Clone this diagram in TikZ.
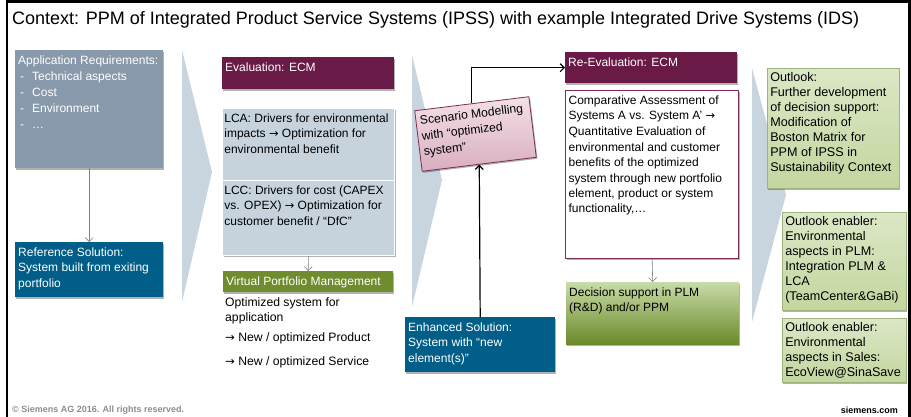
\documentclass[tikz,border=0pt]{standalone}
\usepackage{fontspec}
\setmainfont{Liberation Sans}
\newfontfamily\arrfont{DejaVu Sans}
\newcommand{\rarr}{{\arrfont\scalebox{0.95}{→}}}
\usetikzlibrary{arrows.meta,shadows}
\definecolor{appgrey}{HTML}{8799AA}
\definecolor{tealb}{HTML}{005E88}
\definecolor{purp}{HTML}{6A1A46}
\definecolor{lblue}{HTML}{C6D3DD}
\definecolor{chev}{HTML}{C8D4DE}
\definecolor{olive}{HTML}{6F8C2E}
\definecolor{gtop}{HTML}{C8DBA8}
\definecolor{gmid}{HTML}{A9C07F}
\definecolor{gbot}{HTML}{6A8A28}
\definecolor{otop}{HTML}{DCE7C6}
\definecolor{obot}{HTML}{C3D69F}
\definecolor{oline}{HTML}{9EB37E}
\definecolor{ptop}{HTML}{F3E0E7}
\definecolor{pbot}{HTML}{D8AEBF}
\definecolor{pline}{HTML}{7B2D55}
\definecolor{foot}{HTML}{8C8C8C}
\newcommand{\bx}[3]{\parbox[c][#2][t]{#1}{\raggedright\strut #3}}
\tikzset{
  shad/.style={drop shadow={shadow xshift=1.2pt, shadow yshift=-1.5pt, opacity=0.3, fill=black}},
  boxbase/.style={anchor=north west, inner sep=3pt, font=\fontsize{12}{15.5}\selectfont, shad},
  greybox/.style={boxbase, fill=appgrey, text=white, font=\fontsize{12}{16}\selectfont},
  tealbox/.style={boxbase, fill=tealb, text=white},
  purpbox/.style={boxbase, fill=purp, text=white},
  lbbox/.style={boxbase, fill=lblue, draw=white, line width=0.8pt, text=black, inner xsep=2pt},
  olbox/.style={boxbase, fill=olive, text=white},
  whitebox/.style={boxbase, fill=white, draw=pline, line width=1.3pt, text=black, drop shadow={opacity=0}},
  decbox/.style={boxbase, top color=gtop, middle color=gtop!60!gmid, bottom color=gbot, text=black},
  outbox/.style={boxbase, top color=otop, bottom color=obot, draw=oline, line width=0.5pt, text=black, font=\fontsize{12.6}{15}\selectfont},
  scenbox/.style={inner sep=4pt, top color=ptop, bottom color=pbot, draw=pline, line width=0.8pt, text=black, font=\fontsize{12.2}{15.5}\selectfont, shad},
  plain/.style={anchor=north west, inner sep=0pt, font=\fontsize{12.2}{15.5}\selectfont, text=black, align=left},
  greyarrow/.style={draw=black!50, line width=0.6pt, -{Straight Barb[length=4pt,width=8pt]}},
  blackarrow/.style={draw=black, line width=1.2pt, -{Straight Barb[length=4pt,width=8pt]}},
  chevron/.style={fill=chev, draw=none}
}
\begin{document}
\begin{tikzpicture}[x=1pt,y=-1pt]
\useasboundingbox (0,0) rectangle (911,417);
% frame
\draw[line width=2.5pt] (7,417) -- (7,1.5) -- (909.5,1.5) -- (909.5,417);
% title
\node[anchor=west, inner sep=0pt, font=\fontsize{18}{21}\selectfont] (title) at (12,20)
  {Context: PPM of Integrated Product Service Systems (IPSS) with example Integrated Drive Systems (IDS)};
% chevrons
\fill[chevron] (182,50) -- (212,172) -- (182,302) -- cycle;
\fill[chevron] (412,55) -- (442,180) -- (412,307) -- cycle;
\fill[chevron] (752,68) -- (786,195) -- (752,322) -- cycle;
% column 1
\node[greybox] (appreq) at (15,50) {\bx{142pt}{112pt}{Application Requirements:\\
\makebox[14pt][l]{\hspace{2pt}-}Technical aspects\\
\makebox[14pt][l]{\hspace{2pt}-}Cost\\
\makebox[14pt][l]{\hspace{2pt}-}Environment\\
\makebox[14pt][l]{\hspace{2pt}-}\dots}};
\node[tealbox] (refsol) at (15,242) {\bx{142pt}{49pt}{Reference Solution:\\System built from exiting\\portfolio}};
% column 2
\node[purpbox] (eval) at (222,57) {\bx{166pt}{26pt}{Evaluation: ECM}};
\node[lbbox] (lca) at (222,108) {\bx{168pt}{66pt}{LCA: Drivers for environmental\\impacts \rarr{} Optimization for\\environmental benefit}};
\node[lbbox] (lcc) at (222,180) {\bx{168pt}{69pt}{LCC: Drivers for cost (CAPEX\\vs. OPEX) \rarr{} Optimization for\\customer benefit / “DfC”}};
\node[olbox] (vpm) at (223,271) {\bx{164pt}{15pt}{Virtual Portfolio Management}};
\node[plain] (opt) at (225,297) {Optimized system for\\application};
\node[plain] (newprod) at (225,332) {\rarr{} New / optimized Product};
\node[plain] (newserv) at (225,356) {\rarr{} New / optimized Service};
% column 3
\node[scenbox, rotate=7] (scen) at (475.5,134) {\bx{107pt}{53pt}{Scenario Modelling\\with “optimized\\system”}};
\node[tealbox] (enh) at (405,317) {\bx{144pt}{49pt}{Enhanced Solution:\\System with “new\\element(s)”}};
% column 4
\node[purpbox] (reeval) at (565,52) {\bx{166pt}{25pt}{Re-Evaluation: ECM}};
\node[whitebox] (comp) at (565,90) {\bx{167pt}{162pt}{Comparative Assessment of\\Systems A vs. System A’ \rarr\\Quantitative Evaluation of\\environmental and customer\\benefits of the optimized\\system through new portfolio\\element, product or system\\functionality,\dots}};
\node[decbox] (dec) at (566,282) {\bx{167pt}{56pt}{Decision support in PLM\\(R\&D) and/or PPM}};
% column 5
\node[outbox] (outl) at (767,68) {\bx{126pt}{114pt}{Outlook:\\Further development\\of decision support:\\Modification of\\Boston Matrix for\\PPM of IPSS in\\Sustainability Context}};
\node[outbox] (outplm) at (782,212) {\bx{118pt}{92pt}{Outlook enabler:\\Environmental\\aspects in PLM:\\Integration PLM \&\\LCA\\(TeamCenter\&GaBi)}};
\node[outbox] (outsales) at (782,318) {\bx{118pt}{58pt}{Outlook enabler:\\Environmental\\aspects in Sales:\\EcoView@SinaSave}};
% connectors
\draw[greyarrow] (appreq.south) -- (refsol.north);
\draw[greyarrow] (lcc.south) -- (vpm.north);
\draw[greyarrow] (comp.south) -- (dec.north);
\draw[blackarrow] (scen.north) |- (reeval.west);
\draw[blackarrow] (enh.north) -- (scen.south);
% footer
\node[anchor=west, inner sep=0pt, font=\fontsize{9}{11}\bfseries\selectfont, text=foot] (copy) at (12,410) {© Siemens AG 2016. All rights reserved.};
\node[anchor=east, inner sep=0pt, font=\fontsize{9}{11}\bfseries\selectfont, text=black] (site) at (898,410) {siemens.com};
\end{tikzpicture}
\end{document}
